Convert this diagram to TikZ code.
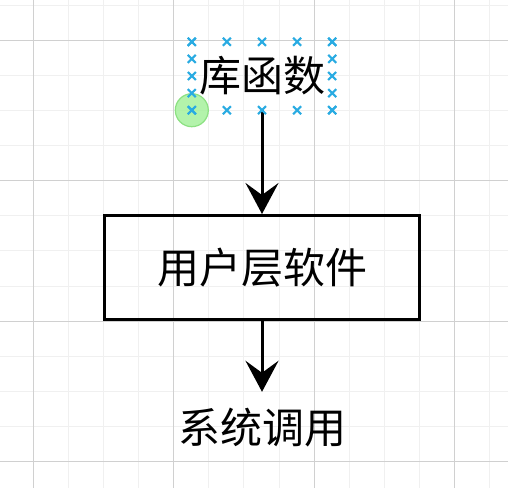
\documentclass[tikz,border=0pt]{standalone}
\usepackage{fontspec}
\newfontfamily\cjk{Noto Sans CJK SC}
\usetikzlibrary{arrows.meta,calc}
\definecolor{gridminor}{RGB}{240,240,240}
\definecolor{gridmajor}{RGB}{208,208,208}
\definecolor{selblue}{RGB}{41,171,226}
\definecolor{hgreen}{RGB}{160,240,150}
\definecolor{hgreenline}{RGB}{140,225,130}
\tikzset{
  txt/.style={font=\cjk\fontsize{42}{48}\selectfont, inner sep=0pt, text=black},
  boxnode/.style={txt, draw=black, line width=3pt, minimum width=315pt, minimum height=104pt},
  conn/.style={draw=black, line width=3pt, -{Stealth[length=31pt, width=33pt, inset=12pt]}},
  selmark/.style={draw=selblue, line width=2.1pt},
}
\newcommand\selx[1]{%
  \draw[selmark] ($(#1)+(-4,-4)$) -- ($(#1)+(4,4)$);
  \draw[selmark] ($(#1)+(-4,4)$) -- ($(#1)+(4,-4)$);}
\begin{document}
\begin{tikzpicture}[x=1pt, y=-1pt]
\useasboundingbox (0,0) rectangle (508,488);
\fill[white] (0,0) rectangle (508,488);
% grid
\foreach \i in {-1,...,14} {
  \pgfmathsetmacro{\gx}{33.3+35.1*\i}
  \pgfmathsetmacro{\gy}{40.3+35.1*\i}
  \draw[gridminor, line width=1pt] (\gx,0) -- (\gx,488);
  \draw[gridminor, line width=1pt] (0,\gy) -- (508,\gy);
}
\foreach \i in {0,...,3} {
  \pgfmathsetmacro{\gx}{33.3+140.4*\i}
  \pgfmathsetmacro{\gy}{40.3+140.4*\i}
  \draw[gridmajor, line width=1pt] (\gx,0) -- (\gx,488);
  \draw[gridmajor, line width=1pt] (0,\gy) -- (508,\gy);
}
% nodes
\node[txt, minimum width=140pt, minimum height=68pt] (lib) at (262,76) {库函数};
\node[boxnode] (user) at (262,267.5) {\raisebox{-3pt}{用户层软件}};
\node[txt, minimum height=72pt] (sys) at (262,428) {系统调用};
% connectors
\draw[conn] (lib.south) -- (user.north);
\draw[conn] (user.south) -- (sys.north);
% selection highlight
\fill[hgreen, fill opacity=0.8, draw=hgreenline, line width=1.2pt] (lib.south west) circle (16.5pt);
\foreach \t in {0,0.25,0.5,0.75,1} {
  \path (lib.north west) -- (lib.north east) coordinate[pos=\t] (ma);
  \path (lib.south west) -- (lib.south east) coordinate[pos=\t] (mb);
  \path (lib.north west) -- (lib.south west) coordinate[pos=\t] (mc);
  \path (lib.north east) -- (lib.south east) coordinate[pos=\t] (md);
  \selx{ma}\selx{mb}\selx{mc}\selx{md}
}
\end{tikzpicture}
\end{document}
